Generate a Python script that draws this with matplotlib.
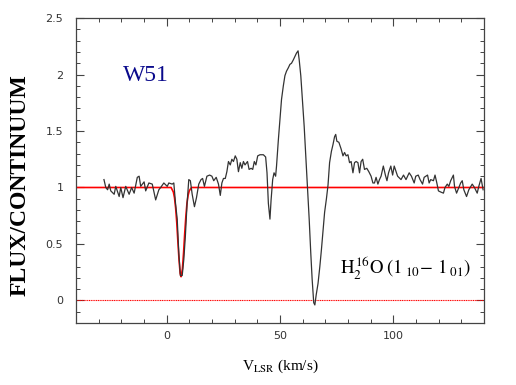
import matplotlib
matplotlib.use("Agg")
import matplotlib.pyplot as plt

# Observed spectrum (V_LSR in km/s, flux/continuum)
velocity = [-27.6, -26.8, -26.0, -25.3, -24.6, -23.1, -22.4, -20.9, -20.2, -19.2,
            -18.0, -16.5, -15.4, -14.3, -12.9, -12.1, -11.4, -9.9, -9.2, -7.8,
            -6.3, -4.8, -3.4, -2.6, -1.2, 0.3, 1.0, 2.5, 3.2,
            3.95, 4.7, 5.4, 6.1, 6.9, 7.6, 8.3, 9.0, 9.8,
            10.5, 11.3, 12.3, 13.2, 14.2, 15.2, 15.9, 16.7, 17.8, 19.0,
            20.0, 20.8, 21.9, 22.9, 23.7, 24.4, 25.1, 25.9, 26.6, 27.3,
            28.1, 28.8, 29.5, 30.3, 31.0, 31.7, 32.5, 33.2, 33.9, 34.6,
            35.7, 36.4, 37.3, 38.0, 38.7, 39.4, 40.2, 41.2, 42.7, 43.7,
            44.3, 44.9, 45.6, 46.1, 46.8, 47.4, 48.1, 48.5, 49.3, 50.0,
            50.7, 51.5, 52.2, 52.9, 53.7, 54.4, 55.1, 55.9, 56.6, 57.3,
            58.0, 58.5, 59.2, 59.9, 60.7, 61.4, 62.1, 62.9, 63.6, 64.2,
            64.9, 65.4, 66.0, 66.8, 67.6, 68.3, 69.0, 69.7, 70.5, 71.2,
            71.9, 72.7, 73.4, 74.1, 74.6, 75.1, 76.0, 77.0, 77.8, 78.5,
            79.2, 80.0, 80.7, 81.4, 82.2, 82.9, 83.6, 84.4, 85.1, 85.8,
            86.5, 87.3, 88.3, 89.2, 90.2, 91.0, 91.7, 92.4, 93.2, 93.9,
            94.6, 95.6, 96.5, 97.2, 97.9, 98.9, 99.7,
            100.4, 101.9, 103.4, 104.5, 105.6, 107.0, 108.0, 109.2, 109.9, 111.0,
            111.8, 112.9, 113.6, 115.1, 115.8, 116.5, 117.7, 118.4, 119.2, 119.9,
            120.9, 122.1, 122.8, 123.8, 124.5, 125.3, 126.5, 127.0, 127.9, 128.9,
            129.7, 130.4, 131.1, 132.3, 133.3, 134.8, 135.8, 137.0, 137.7, 138.7,
            139.6]
flux = [1.07, 1.00, 0.98, 1.03, 0.97, 0.94, 1.01, 0.92, 1.00, 0.91,
        1.01, 0.94, 1.00, 0.95, 1.09, 1.10, 1.01, 1.05, 0.97, 1.04,
        1.03, 0.89, 0.98, 1.00, 1.04, 1.01, 1.04, 1.03, 1.04,
        0.86, 0.72, 0.42, 0.22, 0.22, 0.36, 0.57, 0.84, 1.07,
        1.06, 0.94, 0.83, 0.91, 1.03, 1.07, 1.08, 1.01, 1.10, 1.11,
        1.10, 1.06, 1.09, 1.03, 0.93, 1.04, 1.08, 1.08, 1.14, 1.23,
        1.20, 1.25, 1.23, 1.28, 1.25, 1.14, 1.22, 1.17, 1.23, 1.20,
        1.23, 1.16, 1.17, 1.16, 1.23, 1.20, 1.28, 1.29, 1.29, 1.27,
        1.13, 0.86, 0.72, 0.89, 1.07, 1.13, 1.10, 1.19, 1.42, 1.60,
        1.78, 1.90, 1.99, 2.03, 2.06, 2.09, 2.10, 2.13, 2.16, 2.19,
        2.21, 2.13, 1.99, 1.78, 1.54, 1.28, 1.01, 0.72, 0.42, 0.19,
        -0.02, -0.04, 0.05, 0.15, 0.30, 0.45, 0.62, 0.78, 0.90, 1.02,
        1.22, 1.32, 1.38, 1.45, 1.47, 1.41, 1.40, 1.34, 1.28, 1.31,
        1.28, 1.29, 1.22, 1.23, 1.13, 1.22, 1.23, 1.22, 1.13, 1.23,
        1.25, 1.16, 1.17, 1.14, 1.10, 1.04, 1.04, 1.09, 1.03, 1.07,
        1.10, 1.19, 1.11, 1.06, 1.13, 1.19, 1.11,
        1.19, 1.10, 1.07, 1.11, 1.07, 1.13, 1.10, 1.04, 1.10, 1.11,
        1.07, 1.03, 1.09, 1.11, 1.04, 1.07, 1.06, 1.11, 1.04, 0.97,
        0.96, 0.95, 1.00, 1.03, 1.01, 1.06, 1.11, 1.01, 0.95, 1.00,
        1.04, 1.06, 0.98, 0.92, 0.98, 1.03, 1.00, 0.95, 1.01, 1.08,
        0.98]

# Fitted absorption component (red)
fit_velocity = [-40.0, 2.0, 3.0, 3.5, 4.0, 4.5, 5.0, 5.5, 6.0, 6.4, 7.0, 7.5,
                8.0, 8.5, 9.0, 9.5, 10.0, 11.0, 140.0]
fit_flux = [1.0, 1.0, 0.96, 0.91, 0.82, 0.69, 0.52, 0.36, 0.24, 0.21, 0.28, 0.42,
            0.59, 0.74, 0.86, 0.93, 0.97, 1.0, 1.0]

source_label = "W51"
line_label = r"$\mathrm{H_2^{\,16}O\;(1_{\;10}\!-\,1_{\;01})}$"
xlabel = r"V$_{\mathrm{LSR}}$ (km/s)"
ylabel = "FLUX/CONTINUUM"

plt.rcParams["mathtext.fontset"] = "stix"

fig = plt.figure(figsize=(5.16, 3.85), dpi=100)
ax = fig.add_axes([0.147, 0.161, 0.791, 0.792])

ax.axhline(0, color="red", lw=0.8, ls=(0, (1, 0.6)))
ax.plot(fit_velocity, fit_flux, color="red", lw=1.2, zorder=2)
ax.plot(velocity, flux, color="#333333", lw=0.9, zorder=3)

ax.set_xlim(-40, 140)
ax.set_ylim(-0.2, 2.5)
ax.set_xticks([0, 50, 100])
ax.set_xticks(range(-40, 141, 10), minor=True)
ax.set_yticks([0, 0.5, 1, 1.5, 2, 2.5])
ax.set_yticklabels(["0", "0.5", "1", "1.5", "2", "2.5"])
ax.set_yticks([i / 10 for i in range(-2, 26)], minor=True)
ax.tick_params(which="both", direction="in", top=True, right=True,
               color="#444444", labelsize=8, labelcolor="#333333")
ax.tick_params(which="major", length=6, width=0.8)
ax.tick_params(which="minor", length=3, width=0.7)
ax.tick_params(axis="y", pad=9)
ax.tick_params(axis="x", pad=6)
for s in ax.spines.values():
    s.set_color("#444444")
    s.set_linewidth(0.9)

ax.text(-19.3, 1.94, source_label, color="#0a0a8c", fontsize=17,
        family="Liberation Serif")
ax.text(76.3, 0.23, line_label, color="black", fontsize=13.5)

ax.set_xlabel(xlabel, family="Liberation Serif", fontsize=11, labelpad=12)
ax.set_ylabel(ylabel, family="Liberation Serif", fontsize=17,
              fontweight="bold")
ax.yaxis.set_label_coords(-0.11, 0.452)

fig.savefig("out.png", dpi=100)
